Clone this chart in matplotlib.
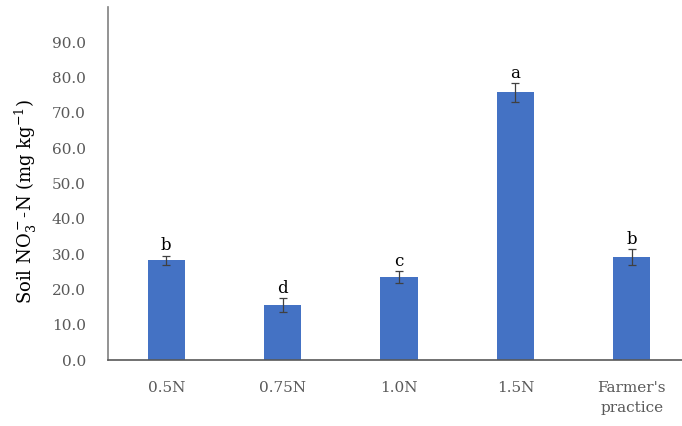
import numpy as np
import matplotlib.pyplot as plt

categories = ["0.5N", "0.75N", "1.0N", "1.5N", "Farmer's\npractice"]
values = [28.3, 15.6, 23.5, 75.8, 29.2]
errors = [1.3, 1.9, 1.8, 2.7, 2.3]
letters = ["b", "d", "c", "a", "b"]

plt.rcParams['font.family'] = ['DejaVu Serif']
plt.rcParams['mathtext.fontset'] = 'dejavuserif'

fig = plt.figure(figsize=(6.82, 4.26), dpi=100)
ax = fig.add_axes([108 / 682, 66 / 426, 582 / 682, 353 / 426])

x = np.arange(len(categories))
ax.bar(x, values, width=0.32, color='#4472C4', zorder=2)
ax.errorbar(x, values, yerr=errors, fmt='none', ecolor='#404040',
            elinewidth=0.9, capsize=3, capthick=0.9, zorder=3)
for xi, v, e, l in zip(x, values, errors, letters):
    ax.text(xi, v + e + 0.3, l, ha='center', va='bottom', fontsize=12, color='black')

ax.set_xlim(-0.5, 4.5)
ax.set_ylim(0, 100)
ax.set_yticks(np.arange(0, 100, 10))
ax.set_yticklabels([f"{t:.1f}" for t in np.arange(0, 100, 10)])
ax.set_xticks(x)
ax.set_xticklabels(categories, linespacing=1.6)
ax.tick_params(axis='both', length=0, labelsize=11, colors='#595959')
ax.tick_params(axis='x', pad=15)
ax.tick_params(axis='y', pad=16)

for s in ['top', 'right']:
    ax.spines[s].set_visible(False)
ax.spines['left'].set_color('#808080')
ax.spines['bottom'].set_color('#595959')
ax.spines['left'].set_linewidth(1.2)
ax.spines['bottom'].set_linewidth(1.2)

ax.set_ylabel("Soil NO$_3^-$-N (mg kg$^{-1}$)", fontsize=13, color='black')
ax.yaxis.set_label_coords(-0.118, 0.448)

fig.savefig("out.png", dpi=100)
